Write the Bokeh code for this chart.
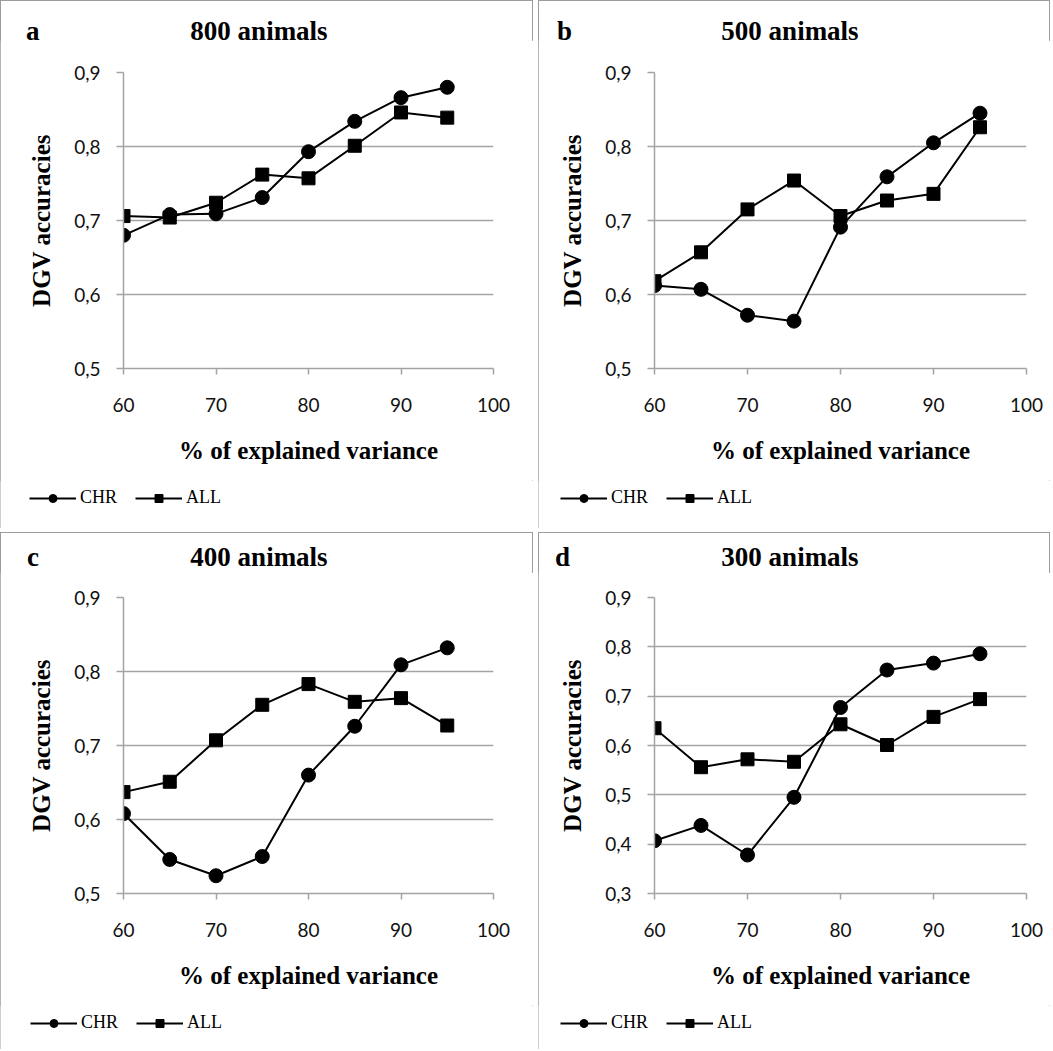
from bokeh.plotting import figure
from bokeh.layouts import column, row
from bokeh.models import Legend, LegendItem, FixedTicker, Range1d, Div
from bokeh.embed import file_html
from bokeh.resources import INLINE

# ---------------- data ----------------
explained = [60, 65, 70, 75, 80, 85, 90, 95]

chr_800 = [0.680, 0.708, 0.709, 0.731, 0.793, 0.834, 0.866, 0.880]
all_800 = [0.706, 0.704, 0.724, 0.762, 0.757, 0.801, 0.846, 0.839]

chr_500 = [0.612, 0.607, 0.572, 0.564, 0.691, 0.759, 0.805, 0.845]
all_500 = [0.618, 0.657, 0.715, 0.754, 0.706, 0.727, 0.736, 0.826]

chr_400 = [0.608, 0.546, 0.524, 0.550, 0.660, 0.726, 0.809, 0.832]
all_400 = [0.637, 0.651, 0.707, 0.755, 0.783, 0.759, 0.764, 0.727]

chr_300 = [0.407, 0.438, 0.378, 0.495, 0.677, 0.753, 0.767, 0.786]
all_300 = [0.635, 0.556, 0.572, 0.567, 0.643, 0.601, 0.658, 0.694]

panel_letters = ["a", "b", "c", "d"]
panel_titles = ["800 animals", "500 animals", "400 animals", "300 animals"]
series_names = ["CHR", "ALL"]

x_ticks = [60, 70, 80, 90, 100]
y_ticks_hi = [0.5, 0.6, 0.7, 0.8, 0.9]
y_labels_hi = ["0,5", "0,6", "0,7", "0,8", "0,9"]
y_ticks_lo = [0.3, 0.4, 0.5, 0.6, 0.7, 0.8, 0.9]
y_labels_lo = ["0,3", "0,4", "0,5", "0,6", "0,7", "0,8", "0,9"]

x_label = "% of explained variance"
y_label = "DGV accuracies"

GRAY = "#a3a3a3"
SERIF = "Liberation Serif"
SANS = "Lato"
HEADER_H = 40
BOTTOM_B = 112


def header(letter, title, width, letter_x, title_cx, baseline):
    top = baseline - 23
    html = (
        f'<div style="position:relative;width:{width}px;height:{HEADER_H}px;'
        f"font-family:'{SERIF}',serif;font-weight:bold;font-size:27px;"
        f'line-height:27px;color:black;">'
        f'<span style="position:absolute;left:{letter_x}px;top:{top}px;">{letter}</span>'
        f'<span style="position:absolute;left:0px;width:{2 * title_cx}px;'
        f'text-align:center;top:{top}px;">{title}</span></div>'
    )
    return Div(text=html, width=width, height=HEADER_H, margin=0)


def legend_strip(width, height, legend_x, chr_vals, all_vals):
    # the strip only shows the legend; its view is kept off the data
    q = figure(width=width, height=height, output_backend="svg",
               toolbar_location=None, tools="",
               x_axis_type=None, y_axis_type=None,
               x_range=Range1d(0, 1), y_range=Range1d(0, 1),
               min_border=0, min_border_left=0, min_border_right=0,
               min_border_top=0, min_border_bottom=0, margin=0)
    q.grid.visible = False
    q.outline_line_color = None
    q.background_fill_color = "white"
    q.border_fill_color = "white"
    l1 = q.line(explained, chr_vals, line_color="black", line_width=2)
    s1 = q.scatter(explained, chr_vals, marker="circle", size=8,
                   fill_color="black", line_color="black")
    l2 = q.line(explained, all_vals, line_color="black", line_width=2)
    s2 = q.scatter(explained, all_vals, marker="square", size=8,
                   fill_color="black", line_color="black")
    legend = Legend(items=[LegendItem(label=series_names[0], renderers=[l1, s1]),
                           LegendItem(label=series_names[1], renderers=[l2, s2])],
                    location=(legend_x, height - 28), orientation="horizontal",
                    border_line_alpha=0, background_fill_alpha=0,
                    padding=0, margin=0, spacing=18,
                    glyph_width=47, glyph_height=20, label_height=20,
                    label_width=10, label_standoff=4,
                    label_text_font=SERIF, label_text_font_size="18px",
                    label_text_color="black")
    q.add_layout(legend)
    return q


def make_panel(letter, title, chr_vals, all_vals, yticks, ylabels,
               width, total_h, bl, br, bt, letter_x, title_cx, baseline,
               legend_x):
    fig_h = bt + 296 + BOTTOM_B
    p = figure(width=width, height=fig_h, output_backend="svg",
               toolbar_location=None, tools="",
               x_range=Range1d(x_ticks[0], x_ticks[-1]),
               y_range=Range1d(yticks[0], yticks[-1]),
               min_border_left=bl, min_border_right=br,
               min_border_top=bt, min_border_bottom=BOTTOM_B, margin=0)
    p.outline_line_color = None
    p.background_fill_color = "white"
    p.border_fill_color = "white"

    p.xgrid.visible = False
    p.ygrid.grid_line_color = GRAY
    p.ygrid.grid_line_width = 1.5
    p.ygrid.ticker = FixedTicker(ticks=yticks)

    p.xaxis.ticker = FixedTicker(ticks=x_ticks)
    p.yaxis.ticker = FixedTicker(ticks=yticks)
    p.yaxis.major_label_overrides = dict(zip(yticks, ylabels))

    for ax in (p.xaxis[0], p.yaxis[0]):
        ax.axis_line_color = GRAY
        ax.axis_line_width = 1.5
        ax.major_tick_line_color = GRAY
        ax.major_tick_line_width = 1.5
        ax.major_tick_in = 0
        ax.minor_tick_line_color = None
        ax.major_label_text_font = SANS
        ax.major_label_text_font_size = "19px"
        ax.major_label_text_color = "#111111"
        ax.axis_label_text_font = SERIF
        ax.axis_label_text_font_style = "bold"
        ax.axis_label_text_font_size = "25px"
        ax.axis_label_text_color = "black"

    p.xaxis.major_tick_out = 6
    p.yaxis.major_tick_out = 7
    p.xaxis.major_label_standoff = 23
    p.yaxis.major_label_standoff = 16
    p.xaxis.axis_label = x_label
    p.yaxis.axis_label = y_label
    p.xaxis.axis_label_standoff = 22
    p.yaxis.axis_label_standoff = 16

    p.line(explained, chr_vals, line_color="black", line_width=2)
    p.scatter(explained, chr_vals, marker="circle", size=14,
              fill_color="black", line_color="black")
    p.line(explained, all_vals, line_color="black", line_width=2)
    p.scatter(explained, all_vals, marker="square", size=13,
              fill_color="black", line_color="black")

    head = header(letter, title, width, letter_x, title_cx, baseline)
    leg = legend_strip(width, total_h - HEADER_H - fig_h, legend_x,
                       chr_vals, all_vals)
    # header+plot are grouped so that the legend strip is laid out on its own
    upper = column(head, p, spacing=0, margin=0)
    lower = row(leg, spacing=0, margin=0)
    return column(upper, lower, spacing=0, margin=0,
                  styles={"outline": "1.5px solid #9c9c9c",
                          "outline-offset": "-1px",
                          "background-color": "white"})


pa = make_panel(panel_letters[0], panel_titles[0], chr_800, all_800,
                y_ticks_hi, y_labels_hi, 533, 528, 123, 40, 32,
                26, 259, 41, 29)
pb = make_panel(panel_letters[1], panel_titles[1], chr_500, all_500,
                y_ticks_hi, y_labels_hi, 512, 528, 116, 24, 32,
                19, 252, 41, 22)
pc = make_panel(panel_letters[2], panel_titles[2], chr_400, all_400,
                y_ticks_hi, y_labels_hi, 533, 517, 123, 40, 25,
                27, 259, 35, 30)
pd = make_panel(panel_letters[3], panel_titles[3], chr_300, all_300,
                y_ticks_lo, y_labels_lo, 512, 517, 116, 24, 25,
                17, 252, 35, 22)

layout = column(row(pa, pb, spacing=5), row(pc, pd, spacing=5), spacing=4)

open("out.html", "w").write(file_html(layout, INLINE))
